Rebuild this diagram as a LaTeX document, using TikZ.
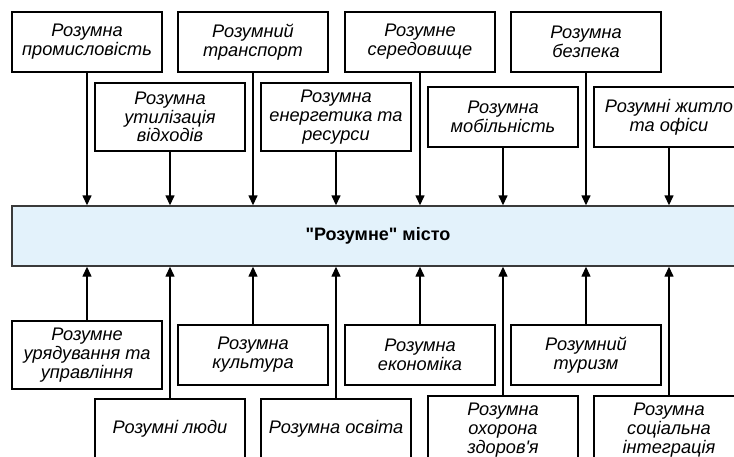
\documentclass[tikz,border=0pt]{standalone}
\usepackage{fontspec}
\setmainfont{Liberation Sans}
% family without the TeX input mapping, so " and ' stay straight
\newfontfamily\boxfont{Liberation Sans}
\usetikzlibrary{arrows.meta}
\definecolor{cityfill}{HTML}{E3F2FB}
\definecolor{cityedge}{HTML}{3A3A3A}
\begin{document}
\begin{tikzpicture}[x=1pt,y=-1pt,
  area/.style={draw=black, line width=1.2pt, fill=white, rectangle,
    minimum width=150pt, inner sep=0pt, align=center,
    font=\boxfont\fontsize{18.2}{18.8}\selectfont\itshape},
  twoline/.style={area, minimum height=60pt},
  threeline/.style={area, minimum height=68pt},
  city/.style={draw=cityedge, line width=1.4pt, fill=cityfill, rectangle,
    minimum width=732pt, minimum height=60pt, inner sep=0pt,
    font=\boxfont\fontsize{18}{20}\selectfont\bfseries},
  feed/.style={line width=1.4pt, -{Triangle[width=9pt,length=10pt]}}
]
\useasboundingbox (0,0) rectangle (734,456);
\clip (0,0) rectangle (734,456);

% central block
\node[city] (main) at (378,236) {"Розумне" місто};

% upper row
\node[twoline] (t1) at (87,42)  {Розумна\\промисловість};
\node[twoline] (t2) at (253,42) {Розумний\\транспорт};
\node[twoline] (t3) at (420,42) {Розумне\\середовище};
\node[twoline] (t4) at (586,42) {Розумна\\безпека};

% second upper row
\node[threeline] (u1) at (170,117) {Розумна\\утилізація\\відходів};
\node[threeline] (u2) at (336,117) {Розумна\\енергетика та\\ресурси};
\node[twoline]   (u3) at (503,117) {Розумна\\мобільність};
\node[twoline]   (u4) at (669,117) {Розумні житло\\та офіси};

% first lower row
\node[threeline] (b1) at (87,355)  {Розумне\\урядування та\\управління};
\node[twoline]   (b2) at (253,355) {Розумна\\культура};
\node[twoline]   (b3) at (420,355) {Розумна\\економіка};
\node[twoline]   (b4) at (586,355) {Розумний\\туризм};

% second lower row
\node[twoline]   (l1) at (170,429) {Розумні люди};
\node[twoline]   (l2) at (336,429) {Розумна освіта};
\node[threeline] (l3) at (503,430) {Розумна\\охорона\\здоров'я};
\node[threeline] (l4) at (669,430) {Розумна\\соціальна\\інтеграція};

% connectors into the central block
\foreach \n in {t1,t2,t3,t4,u1,u2,u3,u4}
  \draw[feed] (\n.south) -- (\n.south |- main.north);
\foreach \n in {b1,b2,b3,b4,l1,l2,l3,l4}
  \draw[feed] (\n.north) -- (\n.north |- main.south);
\end{tikzpicture}
\end{document}
